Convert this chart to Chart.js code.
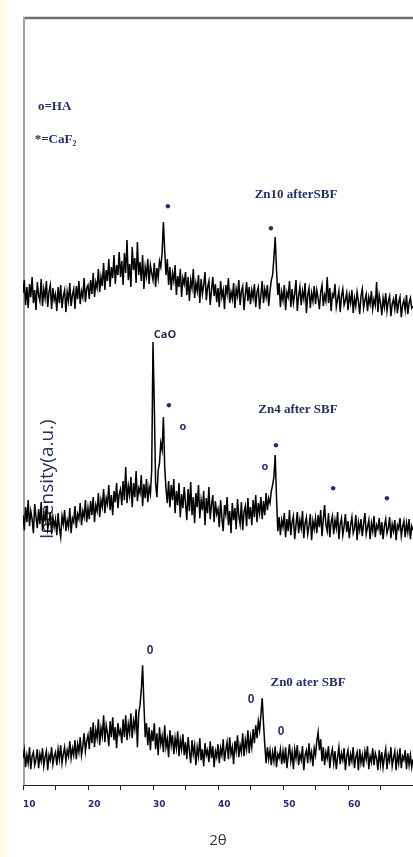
<!DOCTYPE html>
<html>
<head>
<meta charset="utf-8">
<script src="https://cdn.jsdelivr.net/npm/chart.js@4.4.1/dist/chart.umd.min.js"></script>
<style>
  html, body { margin: 0; padding: 0; overflow: hidden; width: 413px; height: 857px; background: #fffbea; }
  #sheet { position: absolute; left: 7px; top: 0; right: 0; bottom: 0; background: #fff; }
  #xrd { position: absolute; left: 0; top: 0; }
</style>
</head>
<body>
<div id="sheet"></div>
<canvas id="xrd" width="440" height="857"></canvas>
<script>
// 2-theta grid, 0.2 deg steps from 10 to 70
const twoTheta = Array.from({ length: 301 }, (_, i) => +(10 + i * 0.2).toFixed(1));

// intensities (a.u.), one row per 5 degrees
const zn0Counts = [
  27, 35, 18, 30, 22, 38, 16, 29, 33, 20, 26, 36, 17, 31, 24, 37, 19, 28, 34, 15, 30, 25, 38, 21, 29,
  33, 20, 36, 26, 40, 22, 31, 38, 24, 35, 29, 44, 27, 37, 30, 45, 26, 41, 33, 48, 30, 39, 52, 34, 44,
  50, 36, 58, 42, 63, 38, 55, 47, 66, 40, 57, 49, 70, 43, 60, 52, 39, 64, 48, 68, 45, 58, 37, 62, 51,
  55, 42, 66, 48, 70, 45, 61, 52, 72, 47, 64, 56, 76, 38, 72, 80, 95, 120, 82, 48, 62, 40, 58, 35, 55,
  44, 62, 36, 52, 30, 58, 41, 49, 33, 60, 38, 46, 28, 55, 40, 50, 31, 47, 37, 54, 29, 45, 36, 51, 30,
  43, 26, 48, 34, 22, 45, 31, 40, 20, 38, 29, 47, 25, 36, 19, 42, 30, 35, 23, 44, 27, 39, 18, 34, 28,
  41, 22, 37, 30, 46, 24, 35, 43, 26, 48, 31, 38, 21, 44, 34, 50, 28, 40, 33, 52, 29, 45, 36, 55, 32,
  48, 38, 56, 42, 60, 47, 64, 55, 70, 87, 62, 40, 22, 38, 26, 35, 20, 33, 24, 39, 18, 31, 27, 36, 21,
  34, 22, 38, 17, 29, 41, 24, 33, 16, 36, 27, 40, 20, 31, 25, 39, 15, 30, 35, 22, 42, 26, 33, 19, 37,
  30, 44, 53, 35, 46, 24, 38, 20, 33, 27, 39, 17, 30, 36, 22, 34, 16, 28, 38, 21, 32, 25, 37, 15, 29,
  35, 19, 31, 24, 38, 17, 28, 33, 15, 36, 22, 30, 18, 34, 26, 39, 16, 29, 23, 37, 20, 32, 27, 15, 35,
  21, 33, 18, 28, 36, 16, 30, 24, 38, 19, 27, 34, 15, 31, 22, 37, 17, 29, 25, 35, 16, 32, 20, 30, 18,
  26
];
const zn4Counts = [
  40, 25, 48, 33, 55, 29, 44, 36, 22, 51, 38, 27, 46, 31, 53, 24, 41, 35, 49, 26, 33, 43, 21, 38, 28,
  36, 20, 42, 27, 18, 39, 31, 45, 24, 35, 28, 47, 22, 37, 33, 49, 27, 41, 36, 52, 30, 44, 38, 55, 33,
  47, 36, 54, 40, 58, 33, 50, 44, 62, 38, 55, 48, 66, 42, 57, 51, 70, 45, 60, 40, 64, 53, 72, 47, 61,
  66, 50, 74, 55, 88, 52, 69, 60, 78, 48, 72, 58, 84, 54, 67, 62, 80, 49, 71, 57, 76, 53, 68, 61, 85,
  213, 150, 72, 58, 85, 92, 112, 105, 138, 88, 66, 52, 74, 48, 70, 55, 76, 42, 64, 50, 72, 38, 61, 47, 68,
  52, 35, 66, 44, 73, 40, 58, 32, 62, 48, 70, 37, 55, 45, 64, 30, 57, 42, 68, 36, 50, 60, 33, 54, 41,
  46, 28, 55, 37, 24, 50, 41, 58, 30, 44, 22, 52, 35, 47, 26, 56, 39, 31, 53, 25, 43, 49, 29, 57, 36,
  48, 30, 55, 38, 60, 33, 52, 42, 58, 36, 54, 40, 62, 45, 57, 52, 64, 70, 78, 100, 58, 24, 38, 20, 35,
  28, 42, 18, 36, 24, 45, 20, 33, 39, 16, 30, 43, 22, 35, 27, 44, 17, 32, 38, 21, 29, 41, 15, 34, 26,
  37, 22, 40, 28, 45, 19, 36, 50, 30, 24, 42, 18, 33, 39, 21, 35, 27, 43, 16, 31, 37, 20, 29, 41, 23,
  34, 17, 30, 38, 22, 27, 40, 15, 33, 25, 36, 19, 31, 42, 21, 28, 35, 16, 32, 24, 39, 18, 30, 26, 37,
  20, 33, 16, 29, 36, 22, 27, 38, 17, 31, 24, 35, 15, 30, 26, 37, 19, 28, 34, 18, 32, 23, 36, 16, 29,
  25
];
const zn10Counts = [
  32, 45, 20, 38, 17, 41, 28, 48, 22, 35, 15, 43, 30, 24, 46, 19, 36, 27, 44, 18, 33, 40, 16, 37, 25,
  31, 14, 38, 22, 40, 17, 29, 35, 13, 33, 24, 42, 19, 30, 36, 16, 39, 26, 44, 21, 34, 28, 47, 23, 37,
  40, 26, 45, 31, 52, 28, 43, 37, 56, 33, 48, 39, 62, 35, 55, 44, 66, 38, 58, 47, 70, 41, 60, 50, 73,
  48, 64, 40, 72, 52, 85, 45, 61, 38, 78, 55, 67, 42, 83, 50, 63, 44, 70, 36, 58, 49, 66, 41, 60, 52,
  45, 62, 38, 57, 47, 64, 58, 72, 103, 74, 50, 66, 40, 58, 35, 52, 44, 60, 30, 49, 38, 56, 28, 47, 41,
  53, 30, 48, 24, 45, 37, 56, 27, 42, 34, 50, 22, 46, 31, 40, 53, 25, 38, 44, 20, 35, 48, 29, 41, 23,
  37, 18, 44, 28, 35, 16, 40, 31, 47, 22, 33, 26, 42, 17, 36, 29, 45, 20, 34, 39, 15, 30, 43, 24, 38,
  21, 35, 27, 41, 18, 33, 38, 16, 30, 44, 22, 36, 28, 40, 19, 34, 45, 50, 67, 88, 55, 30, 42, 18, 33,
  25, 40, 15, 33, 28, 44, 18, 36, 22, 31, 45, 14, 29, 38, 20, 34, 26, 42, 12, 30, 37, 17, 32, 24, 39,
  21, 35, 27, 16, 33, 40, 19, 30, 24, 48, 22, 37, 14, 31, 28, 41, 18, 26, 34, 13, 29, 36, 20, 25, 32,
  15, 30, 22, 35, 12, 27, 19, 33, 24, 11, 29, 36, 17, 25, 31, 14, 28, 21, 34, 16, 26, 20, 43, 13, 30,
  22, 10, 27, 18, 32, 14, 24, 29, 9, 21, 26, 16, 31, 12, 23, 28, 8, 20, 25, 15, 30, 11, 22, 27, 17,
  19
];

// vertical shift of each scan in the stack
const zn0Shift = 0;
const zn4Shift = 230;
const zn10Shift = 460;

const NAVY = '#26305f';
const bullet = 'bold 13px "DejaVu Sans"';
const zero = 'bold 12px "Liberation Sans"';
const sampleFont = 'bold 13px "Liberation Serif"';
const keyFont = 'bold 13px "Liberation Serif"';

// text marks placed in data coordinates (2theta, a.u.)
const notes = [
  { text: 'o=HA', x: 12.3, y: 678, font: keyFont, align: 'left' },
  { text: '*=CaF₂', x: 11.8, y: 645, font: keyFont, align: 'left' },
  { text: 'Zn10 afterSBF', x: 52.0, y: 590, font: sampleFont },
  { text: '•', x: 32.3, y: 577, font: bullet },
  { text: '•', x: 48.15, y: 555, font: bullet },
  { text: 'CaO', x: 31.85, y: 450, font: 'bold 11px "Open Sans"', color: '#2a2f4a' },
  { text: '•', x: 32.46, y: 378, font: bullet },
  { text: 'o', x: 34.6, y: 358, font: 'bold 11px "Open Sans"' },
  { text: 'Zn4 after SBF', x: 52.3, y: 375, font: sampleFont },
  { text: 'o', x: 47.23, y: 318, font: 'bold 11px "Open Sans"' },
  { text: '•', x: 48.9, y: 338, font: bullet },
  { text: '•', x: 57.7, y: 295, font: bullet },
  { text: '•', x: 66.0, y: 286, font: bullet },
  { text: '0', x: 29.54, y: 134, font: zero },
  { text: 'Zn0 ater SBF', x: 53.85, y: 103, font: sampleFont },
  { text: '0', x: 45.08, y: 85, font: zero },
  { text: '0', x: 49.7, y: 53, font: zero }
];

const toPoints = (counts, shift) => counts.map((c, i) => ({ x: twoTheta[i], y: c + shift }));

const framePlugin = {
  id: 'frame',
  beforeDatasetsDraw(chart) {
    const { ctx, chartArea: a, scales: { x, y } } = chart;
    ctx.save();
    ctx.strokeStyle = '#6d6d6d';
    ctx.lineWidth = 2.5;
    ctx.beginPath();
    ctx.moveTo(a.left, a.top + 1);
    ctx.lineTo(a.right + 30, a.top + 1);
    ctx.stroke();
    ctx.strokeStyle = '#a0a0a0';
    ctx.lineWidth = 2;
    ctx.beginPath();
    ctx.moveTo(a.left + 1, a.top);
    ctx.lineTo(a.left + 1, a.bottom);
    ctx.stroke();
    // y title sits inside the frame, under the scans
    ctx.translate(x.getPixelForValue(13.85), y.getPixelForValue(306));
    ctx.rotate(-Math.PI / 2);
    ctx.fillStyle = NAVY;
    ctx.font = '19px "Open Sans"';
    ctx.textAlign = 'center';
    ctx.textBaseline = 'middle';
    ctx.fillText('Intensity(a.u.)', 0, 0);
    ctx.restore();
  },
  afterDatasetsDraw(chart) {
    const { ctx, scales: { x, y } } = chart;
    ctx.save();
    ctx.textBaseline = 'middle';
    notes.forEach(n => {
      ctx.font = n.font;
      ctx.fillStyle = n.color || NAVY;
      ctx.textAlign = n.align || 'center';
      ctx.fillText(n.text, x.getPixelForValue(n.x), y.getPixelForValue(n.y));
    });
    ctx.restore();
  }
};

const scan = (label, counts, shift) => ({
  label,
  data: toPoints(counts, shift),
  borderColor: '#000',
  borderWidth: 1.5,
  pointRadius: 0,
  tension: 0
});

new Chart(document.getElementById('xrd'), {
  type: 'line',
  data: {
    datasets: [
      scan('Zn0 ater SBF', zn0Counts, zn0Shift),
      scan('Zn4 after SBF', zn4Counts, zn4Shift),
      scan('Zn10 afterSBF', zn10Counts, zn10Shift)
    ]
  },
  options: {
    responsive: false,
    animation: false,
    devicePixelRatio: 1,
    layout: { padding: { left: 23, top: 17, right: 27, bottom: 7 } },
    plugins: { legend: { display: false }, tooltip: { enabled: false } },
    scales: {
      x: {
        type: 'linear',
        min: 10,
        max: 70,
        grid: { drawOnChartArea: false, drawTicks: true, tickLength: 5, tickColor: '#222' },
        border: { display: true, color: '#222', width: 1 },
        ticks: {
          stepSize: 5,
          autoSkip: false,
          maxRotation: 0,
          align: 'start',
          padding: 9,
          color: NAVY,
          font: { family: 'DejaVu Sans', size: 9, weight: 'bold' },
          callback: v => (v % 10 === 0 ? v : '')
        },
        title: {
          display: true,
          text: '2θ',
          color: '#333',
          font: { family: 'Open Sans', size: 15 },
          padding: { top: 13, bottom: 0 }
        }
      },
      y: { display: false, min: 0, max: 768 }
    }
  },
  plugins: [framePlugin]
});
</script>
</body>
</html>
